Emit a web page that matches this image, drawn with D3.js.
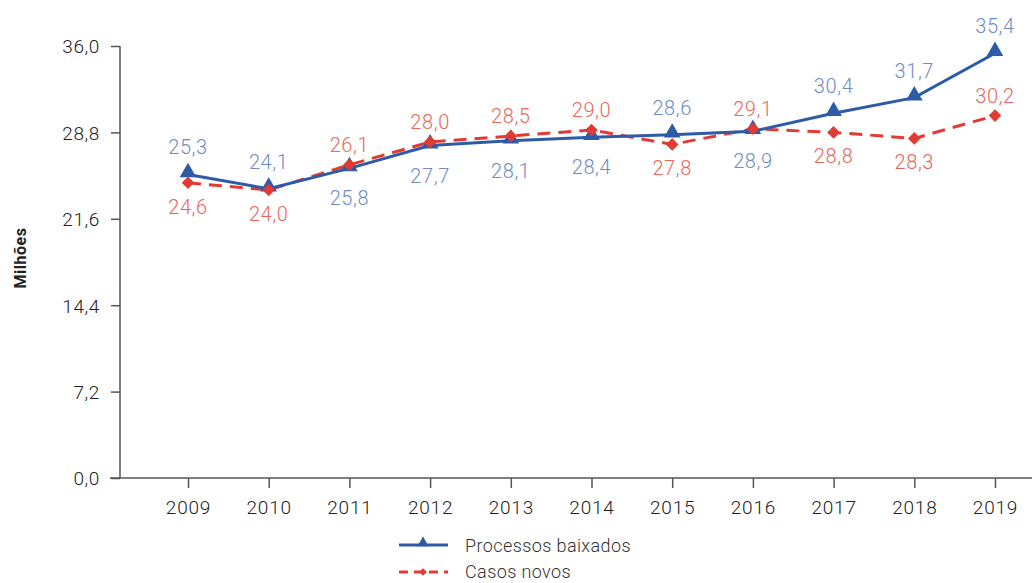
<!DOCTYPE html>
<html><head><meta charset="utf-8">
<script src="https://cdn.jsdelivr.net/npm/d3@7"></script>
<style>body{margin:0;background:#fff;}svg{display:block;font-family:Roboto,"Open Sans",sans-serif;}</style>
</head><body>
<svg id="c" width="1032" height="583"></svg>
<script>
const years = [2009,2010,2011,2012,2013,2014,2015,2016,2017,2018,2019];
const baixados = [25.3,24.1,25.8,27.7,28.1,28.4,28.6,28.9,30.4,31.7,35.4];
const novos = [24.6,24.0,26.1,28.0,28.5,29.0,27.8,29.1,28.8,28.3,30.2];
const baixadosLabelPos = ["a","a","b","b","b","b","a","b","a","a","a"];
const novosLabelPos = ["b","b","a","a","a","a","b","a","b","b","a"];
const yTicks = [0,7.2,14.4,21.6,28.8,36.0];
const seriesNames = ["Processos baixados","Casos novos"];

const svg = d3.select("#c");
const blue = "#2e5ba8", red = "#e23b35";
const blueText = "#6f8cc6", redText = "#e8675c";
const x = d3.scalePoint().domain(years).range([188,995]);
const y = d3.scaleLinear().domain([0,36]).range([478,46]);
const fmt = v => v.toFixed(1).replace(".", ",");

// y axis
const ya = svg.append("g").attr("transform","translate(120,0)")
  .call(d3.axisLeft(y).tickValues(yTicks).tickSize(9).tickSizeOuter(0).tickFormat(fmt))
  .attr("font-family","Roboto, sans-serif");
ya.select(".domain").attr("stroke","#555").attr("stroke-width",1.5).attr("d","M0,46V478");
ya.selectAll(".tick line").attr("stroke","#555").attr("stroke-width",1.5);
ya.selectAll(".tick text").attr("font-size",19).attr("font-weight",300).attr("fill","#222").attr("x",-20)
  .attr("letter-spacing",0.6).attr("dy","0.36em");

// x axis
const xa = svg.append("g").attr("transform","translate(0,478)")
  .call(d3.axisBottom(x).tickSize(10).tickSizeOuter(0).tickFormat(d3.format("d")))
  .attr("font-family","Roboto, sans-serif");
xa.select(".domain").attr("stroke","#555").attr("stroke-width",1.5).attr("d","M110,0H1032");
xa.selectAll(".tick line").attr("stroke","#555").attr("stroke-width",1.5);
xa.selectAll(".tick text").attr("font-size",19).attr("font-weight",300).attr("fill","#222").attr("y",36).attr("dy",0)
  .attr("letter-spacing",0.8);

// y label
svg.append("text").attr("transform","translate(26,258) rotate(-90)")
  .attr("text-anchor","middle").attr("font-size",16).attr("font-weight","bold")
  .attr("letter-spacing",0.5).attr("fill","#222").text("Milhões");

const line = d3.line().x((d,i)=>x(years[i])).y(d=>y(d));

// red dashed line
svg.append("path").datum(novos).attr("d",line).attr("fill","none")
  .attr("stroke",red).attr("stroke-width",3).attr("stroke-dasharray","13,8");
// blue line
svg.append("path").datum(baixados).attr("d",line).attr("fill","none")
  .attr("stroke",blue).attr("stroke-width",3);

const tri = d3.symbol().type(d3.symbolTriangle).size(120);
const dia = d3.symbol().type(d3.symbolSquare).size(80);

svg.append("g").selectAll("path").data(baixados).join("path")
  .attr("d",tri).attr("fill",blue)
  .attr("transform",(d,i)=>`translate(${x(years[i])},${y(d)-2})`);
svg.append("g").selectAll("path").data(novos).join("path")
  .attr("d",dia).attr("fill",red)
  .attr("transform",(d,i)=>`translate(${x(years[i])},${y(d)}) rotate(45)`);

// labels
svg.append("g").selectAll("text").data(baixados).join("text")
  .attr("x",(d,i)=>x(years[i])).attr("y",(d,i)=>baixadosLabelPos[i]==="a"? y(d)-20 : y(d)+37)
  .attr("text-anchor","middle").attr("font-size",20).attr("font-weight",300)
  .attr("letter-spacing",0.6).attr("fill",blueText).text(fmt);
svg.append("g").selectAll("text").data(novos).join("text")
  .attr("x",(d,i)=>x(years[i])).attr("y",(d,i)=>novosLabelPos[i]==="a"? y(d)-13 : y(d)+31)
  .attr("text-anchor","middle").attr("font-size",20).attr("font-weight",300)
  .attr("letter-spacing",0.6).attr("fill",redText).text(fmt);

// legend
const lg = svg.append("g");
lg.append("line").attr("x1",399).attr("x2",448).attr("y1",545).attr("y2",545)
  .attr("stroke",blue).attr("stroke-width",3);
lg.append("path").attr("d",d3.symbol().type(d3.symbolTriangle).size(55)).attr("fill",blue)
  .attr("transform","translate(423,543)");
lg.append("text").attr("x",465).attr("y",552).attr("font-size",18).attr("font-weight",300)
  .attr("letter-spacing",0.4).attr("fill","#333").text(seriesNames[0]);
lg.append("line").attr("x1",399).attr("x2",448).attr("y1",572).attr("y2",572)
  .attr("stroke",red).attr("stroke-width",3).attr("stroke-dasharray","9,6");
lg.append("path").attr("d",d3.symbol().type(d3.symbolSquare).size(30)).attr("fill",red)
  .attr("transform","translate(423,572) rotate(45)");
lg.append("text").attr("x",465).attr("y",578).attr("font-size",18).attr("font-weight",300)
  .attr("letter-spacing",0.4).attr("fill","#333").text(seriesNames[1]);
</script>
</body></html>
